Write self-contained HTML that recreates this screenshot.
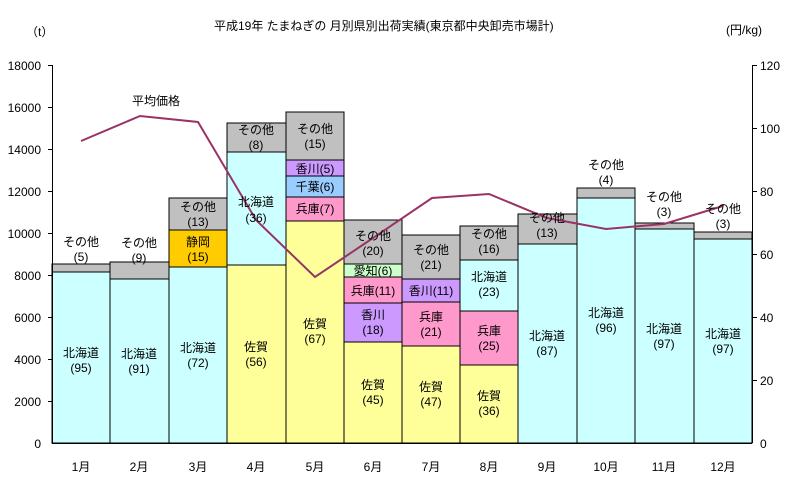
<!DOCTYPE html>
<html><head><meta charset="utf-8"><style>
body{margin:0;background:#fff}
svg{display:block}
text{font-family:"Liberation Sans","Noto Sans CJK JP",sans-serif;font-size:12px;fill:#000}
</style></head><body>
<svg width="792" height="487" viewBox="0 0 792 487" xmlns="http://www.w3.org/2000/svg">
<g stroke="#000" stroke-width="1">
<!-- 1 -->
<rect x="52" y="264" width="58" height="8" fill="#c0c0c0"/>
<rect x="52" y="272" width="58" height="171" fill="#ccffff"/>
<!-- 2 -->
<rect x="110" y="262" width="59" height="17" fill="#c0c0c0"/>
<rect x="110" y="279" width="59" height="164" fill="#ccffff"/>
<!-- 3 -->
<rect x="169" y="198" width="58" height="32" fill="#c0c0c0"/>
<rect x="169" y="230" width="58" height="37" fill="#ffcc00"/>
<rect x="169" y="267" width="58" height="176" fill="#ccffff"/>
<!-- 4 -->
<rect x="227" y="123" width="59" height="29" fill="#c0c0c0"/>
<rect x="227" y="152" width="59" height="113" fill="#ccffff"/>
<rect x="227" y="265" width="59" height="178" fill="#ffff99"/>
<!-- 5 -->
<rect x="286" y="112" width="58" height="48" fill="#c0c0c0"/>
<rect x="286" y="160" width="58" height="16" fill="#cc99ff"/>
<rect x="286" y="176" width="58" height="21" fill="#99ccff"/>
<rect x="286" y="197" width="58" height="24" fill="#ff99cc"/>
<rect x="286" y="221" width="58" height="222" fill="#ffff99"/>
<!-- 6 -->
<rect x="344" y="220" width="58" height="44" fill="#c0c0c0"/>
<rect x="344" y="264" width="58" height="13" fill="#ccffcc"/>
<rect x="344" y="277" width="58" height="26" fill="#ff99cc"/>
<rect x="344" y="303" width="58" height="39" fill="#cc99ff"/>
<rect x="344" y="342" width="58" height="101" fill="#ffff99"/>
<!-- 7 -->
<rect x="402" y="235" width="58" height="44" fill="#c0c0c0"/>
<rect x="402" y="279" width="58" height="23" fill="#cc99ff"/>
<rect x="402" y="302" width="58" height="44" fill="#ff99cc"/>
<rect x="402" y="346" width="58" height="97" fill="#ffff99"/>
<!-- 8 -->
<rect x="460" y="226" width="58" height="34" fill="#c0c0c0"/>
<rect x="460" y="260" width="58" height="51" fill="#ccffff"/>
<rect x="460" y="311" width="58" height="54" fill="#ff99cc"/>
<rect x="460" y="365" width="58" height="78" fill="#ffff99"/>
<!-- 9-12 -->
<rect x="518" y="214" width="59" height="30" fill="#c0c0c0"/>
<rect x="518" y="244" width="59" height="199" fill="#ccffff"/>
<rect x="577" y="188" width="58" height="10" fill="#c0c0c0"/>
<rect x="577" y="198" width="58" height="245" fill="#ccffff"/>
<rect x="635" y="223" width="59" height="6" fill="#c0c0c0"/>
<rect x="635" y="229" width="59" height="214" fill="#ccffff"/>
<rect x="694" y="232" width="58" height="7" fill="#c0c0c0"/>
<rect x="694" y="239" width="58" height="204" fill="#ccffff"/>
</g>
<!-- axes -->
<g stroke="#000" stroke-width="1">
<line x1="52.5" y1="65" x2="52.5" y2="443"/>
<line x1="752.5" y1="65" x2="752.5" y2="443"/>
<line x1="52" y1="443.5" x2="752" y2="443.5"/>
<line x1="48" y1="65.5" x2="52" y2="65.5"/><line x1="48" y1="107.5" x2="52" y2="107.5"/><line x1="48" y1="149.5" x2="52" y2="149.5"/><line x1="48" y1="191.5" x2="52" y2="191.5"/><line x1="48" y1="233.5" x2="52" y2="233.5"/><line x1="48" y1="275.5" x2="52" y2="275.5"/><line x1="48" y1="317.5" x2="52" y2="317.5"/><line x1="48" y1="359.5" x2="52" y2="359.5"/><line x1="48" y1="401.5" x2="52" y2="401.5"/>
<line x1="752" y1="65.5" x2="757" y2="65.5"/><line x1="752" y1="128.5" x2="757" y2="128.5"/><line x1="752" y1="191.5" x2="757" y2="191.5"/><line x1="752" y1="254.5" x2="757" y2="254.5"/><line x1="752" y1="317.5" x2="757" y2="317.5"/><line x1="752" y1="380.5" x2="757" y2="380.5"/>
</g>
<polyline points="81,141 140,116 198,122 256,220 315,277 373,238 432,198 489,194 547,218 606,229 664,224 723,206" fill="none" stroke="#993366" stroke-width="2"/>
<g text-anchor="end">
<text x="41" y="70">18000</text><text x="41" y="112">16000</text><text x="41" y="154">14000</text><text x="41" y="196">12000</text><text x="41" y="238">10000</text><text x="41" y="280">8000</text><text x="41" y="322">6000</text><text x="41" y="364">4000</text><text x="41" y="406">2000</text><text x="41" y="448">0</text>
</g>
<g>
<text x="760" y="70">120</text><text x="760" y="133">100</text><text x="760" y="196">80</text><text x="760" y="259">60</text><text x="760" y="322">40</text><text x="760" y="385">20</text><text x="760" y="448">0</text>
</g>
<text x="26" y="36">（t）</text>
<text x="726" y="34">(円/kg)</text>
<text x="214" y="30">平成19年  たまねぎの 月別県別出荷実績(東京都中央卸売市場計)</text>
<text x="132" y="105">平均価格</text>
<g text-anchor="middle">
<text x="81" y="471">1月</text><text x="139" y="471">2月</text><text x="198" y="471">3月</text><text x="256" y="471">4月</text><text x="315" y="471">5月</text><text x="373" y="471">6月</text><text x="431" y="471">7月</text><text x="489" y="471">8月</text><text x="547" y="471">9月</text><text x="606" y="471">10月</text><text x="664" y="471">11月</text><text x="723" y="471">12月</text>
<text x="81" y="246">その他</text><text x="81" y="261">(5)</text>
<text x="81" y="357">北海道</text><text x="81" y="372">(95)</text>
<text x="139" y="247">その他</text><text x="139" y="262">(9)</text>
<text x="139" y="358">北海道</text><text x="139" y="373">(91)</text>
<text x="198" y="211">その他</text><text x="198" y="226">(13)</text>
<text x="198" y="246">静岡</text><text x="198" y="261">(15)</text>
<text x="198" y="352">北海道</text><text x="198" y="367">(72)</text>
<text x="256" y="134">その他</text><text x="256" y="149">(8)</text>
<text x="256" y="206">北海道</text><text x="256" y="222">(36)</text>
<text x="256" y="351">佐賀</text><text x="256" y="366">(56)</text>
<text x="315" y="133">その他</text><text x="315" y="148">(15)</text>
<text x="315" y="173">香川(5)</text>
<text x="315" y="191">千葉(6)</text>
<text x="315" y="213">兵庫(7)</text>
<text x="315" y="328">佐賀</text><text x="315" y="343">(67)</text>
<text x="373" y="240">その他</text><text x="373" y="255">(20)</text>
<text x="373" y="275">愛知(6)</text>
<text x="373" y="295">兵庫(11)</text>
<text x="373" y="319">香川</text><text x="373" y="334">(18)</text>
<text x="373" y="389">佐賀</text><text x="373" y="404">(45)</text>
<text x="431" y="254">その他</text><text x="431" y="269">(21)</text>
<text x="431" y="295">香川(11)</text>
<text x="431" y="321">兵庫</text><text x="431" y="336">(21)</text>
<text x="431" y="391">佐賀</text><text x="431" y="406">(47)</text>
<text x="489" y="238">その他</text><text x="489" y="253">(16)</text>
<text x="489" y="281">北海道</text><text x="489" y="296">(23)</text>
<text x="489" y="335">兵庫</text><text x="489" y="350">(25)</text>
<text x="489" y="400">佐賀</text><text x="489" y="415">(36)</text>
<text x="547" y="222">その他</text><text x="547" y="237">(13)</text>
<text x="547" y="340">北海道</text><text x="547" y="355">(87)</text>
<text x="606" y="169">その他</text><text x="606" y="184">(4)</text>
<text x="606" y="317">北海道</text><text x="606" y="332">(96)</text>
<text x="664" y="201">その他</text><text x="664" y="216">(3)</text>
<text x="664" y="333">北海道</text><text x="664" y="348">(97)</text>
<text x="723" y="213">その他</text><text x="723" y="228">(3)</text>
<text x="723" y="338">北海道</text><text x="723" y="353">(97)</text>
</g>
</svg>
</body></html>
